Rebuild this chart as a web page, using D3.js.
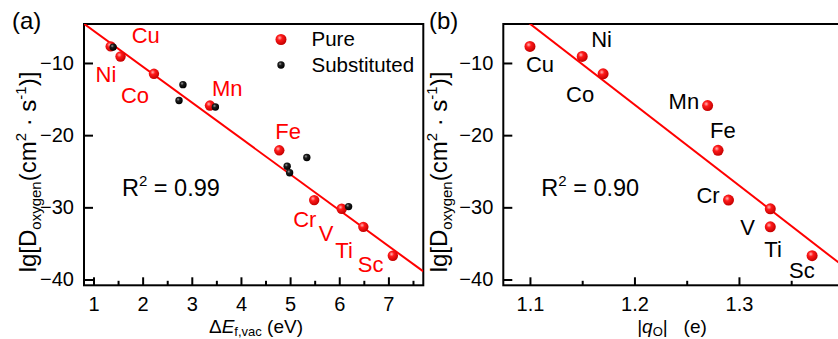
<!DOCTYPE html>
<html>
<head>
<meta charset="utf-8">
<script src="https://cdn.jsdelivr.net/npm/d3@7"></script>
<style>
  body { margin: 0; background: #fff; }
  text { font-family: 'Liberation Sans', Arial, sans-serif; }
</style>
</head>
<body>
<svg id="chart" width="838" height="339"></svg>
<script>
// values
const elements = ['Cu', 'Ni', 'Co', 'Mn', 'Fe', 'Cr', 'V', 'Ti', 'Sc'];
const lgD = [-7.7, -9.1, -11.5, -15.9, -22.1, -29.0, -30.2, -32.7, -36.7];
const eVacPure = [1.35, 1.55, 2.23, 3.37, 4.78, 5.49, 6.05, 6.49, 7.09];
const qO = [1.10, 1.15, 1.17, 1.27, 1.28, 1.29, 1.33, 1.33, 1.37];

const eVacSub = [1.40, 2.74, 2.82, 3.48, 4.94, 4.99, 5.34, 6.19];
const lgDSub = [-7.8, -15.2, -13.0, -16.1, -24.3, -25.2, -23.1, -29.9];

// linear fits: [intercept, slope]
const fitA = [-0.56, -4.97];
const fitB = [118.63, -112];
const r2A = '0.99';
const r2B = '0.90';

const yTicks = [-10, -20, -30, -40];
const xTicksA = [1, 2, 3, 4, 5, 6, 7];
const xMinorA = [1.5, 2.5, 3.5, 4.5, 5.5, 6.5, 7.5];
const xTicksB = [1.1, 1.2, 1.3];
const xMinorB = [1.15, 1.25, 1.35];

// label offsets from each point (px), panel a / panel b
const labOffA = [[21, -3], [-25, 26], [-33, 29], [2, -10], [-4, -11], [-21, 27], [-23, 32], [-28, 31], [-35, 16]];
const labOffB = [[-4, 26], [9, -9], [-37, 28], [-39, 3], [-8, -12], [-32, 3], [-30, 26], [-6, 30], [-23, 22]];

const RED = '#ff0000';
const svg = d3.select('#chart');

// sphere-like fills
const defs = svg.append('defs');
function ball(id, hi, mid, edge) {
  const g = defs.append('radialGradient').attr('id', id)
    .attr('cx', '38%').attr('cy', '35%').attr('r', '65%');
  g.append('stop').attr('offset', '0%').attr('stop-color', hi);
  g.append('stop').attr('offset', '35%').attr('stop-color', mid);
  g.append('stop').attr('offset', '100%').attr('stop-color', edge);
}
ball('redBall', '#ffb4b4', '#ff1a1a', '#c40000');
ball('blackBall', '#9a9a9a', '#1c1c1c', '#000');

const yScale = d3.scaleLinear().domain([-40.8, -4.6]).range([285.3, 24]);

function drawPanel(p) {
  const x = d3.scaleLinear().domain(p.xDomain).range(p.xRange);
  const g = svg.append('g');
  const clipId = 'clip' + p.tag;
  defs.append('clipPath').attr('id', clipId).append('rect')
    .attr('x', p.xRange[0]).attr('y', 24)
    .attr('width', p.xRange[1] - p.xRange[0]).attr('height', 285.3 - 24);

  // axes
  const xAxis = g.append('g').attr('transform', 'translate(0,285.3)')
    .call(d3.axisBottom(x).tickValues(p.xTicks).tickSize(-8).tickSizeOuter(0)
      .tickPadding(11.5).tickFormat(p.fmt));
  const xMinor = g.append('g').attr('transform', 'translate(0,285.3)')
    .call(d3.axisBottom(x).tickValues(p.xMinor).tickSize(-4.5).tickSizeOuter(0).tickFormat(''));
  const yAxis = g.append('g').attr('transform', `translate(${p.xRange[0]},0)`)
    .call(d3.axisLeft(yScale).tickValues(yTicks).tickSize(-9).tickSizeOuter(0)
      .tickPadding(10).tickFormat(d3.format('d')));
  [xAxis, xMinor, yAxis].forEach((a) => {
    a.select('.domain').remove();
    a.selectAll('line').attr('stroke', '#000').attr('stroke-width', 2);
    a.selectAll('text').attr('fill', '#000').style('font-size', '20px')
      .style('font-family', "'Liberation Sans', Arial, sans-serif");
  });

  // frame
  g.append('rect')
    .attr('x', p.xRange[0]).attr('y', 24)
    .attr('width', p.xRange[1] - p.xRange[0]).attr('height', 285.3 - 24)
    .attr('fill', 'none').attr('stroke', '#000').attr('stroke-width', 2);

  // fit line
  g.append('line')
    .attr('clip-path', `url(#${clipId})`)
    .attr('x1', x(p.xDomain[0])).attr('y1', yScale(p.fit[0] + p.fit[1] * p.xDomain[0]))
    .attr('x2', x(p.xDomain[1])).attr('y2', yScale(p.fit[0] + p.fit[1] * p.xDomain[1]))
    .attr('stroke', RED).attr('stroke-width', 2);

  // pure points
  g.selectAll('circle.pure').data(p.xs).enter().append('circle')
    .attr('class', 'pure')
    .attr('cx', (d) => x(d)).attr('cy', (d, i) => yScale(lgD[i]))
    .attr('r', p.r).attr('fill', 'url(#redBall)');

  if (p.subX) {
    g.selectAll('circle.sub').data(p.subX).enter().append('circle')
      .attr('class', 'sub')
      .attr('cx', (d) => x(d)).attr('cy', (d, i) => yScale(p.subY[i]))
      .attr('r', 3.7).attr('fill', 'url(#blackBall)');
  }

  // element labels
  g.selectAll('text.el').data(elements).enter().append('text')
    .attr('class', 'el')
    .attr('x', (d, i) => x(p.xs[i]) + p.labOff[i][0])
    .attr('y', (d, i) => yScale(lgD[i]) + p.labOff[i][1])
    .attr('fill', p.labColor).style('font-size', '22px')
    .text((d) => d);

  // R^2
  const r2 = g.append('text').attr('x', p.xRange[0] + 38).attr('y', 196)
    .style('font-size', '23.5px').attr('fill', '#000');
  r2.append('tspan').text('R');
  r2.append('tspan').attr('dy', -10).style('font-size', '15px').text('2');
  r2.append('tspan').attr('dy', 10).text('\u00a0= ' + p.r2);

  // panel tag
  g.append('text').attr('x', p.tagX).attr('y', 29).style('font-size', '24px')
    .text(`(${p.tag})`);

  // y title
  const yt = g.append('text')
    .attr('transform', `translate(${p.yTitleX},172) rotate(-90)`)
    .attr('text-anchor', 'middle').style('font-size', '24px');
  yt.append('tspan').text('lg[D');
  yt.append('tspan').attr('dy', 5).style('font-size', '15px').text('oxygen');
  yt.append('tspan').attr('dy', -5).text('(cm');
  yt.append('tspan').attr('dy', -10).style('font-size', '15px').text('2');
  yt.append('tspan').attr('dy', 10).text('\u00a0\u00b7\u00a0s');
  yt.append('tspan').attr('dy', -10).style('font-size', '15px').text('-1');
  yt.append('tspan').attr('dy', 10).text(')]');

  // x title
  const xt = g.append('text').attr('x', p.xTitleX).attr('y', 333)
    .attr('text-anchor', 'middle').style('font-size', '19px');
  p.xTitle(xt);
}

drawPanel({
  tag: 'a', tagX: 12, yTitleX: 36, xTitleX: 256,
  xDomain: [0.807, 7.71], xRange: [84, 423.3],
  xTicks: xTicksA, xMinor: xMinorA, fmt: d3.format('d'),
  xs: eVacPure, subX: eVacSub, subY: lgDSub,
  fit: fitA, r2: r2A, r: 5.2, labOff: labOffA, labColor: RED,
  xTitle: (t) => {
    t.append('tspan').text('\u0394');
    t.append('tspan').style('font-style', 'italic').text('E');
    t.append('tspan').attr('dy', 3).style('font-size', '13px').text('f,vac');
    t.append('tspan').attr('dy', -3).text('\u00a0(eV)');
  },
});

drawPanel({
  tag: 'b', tagX: 429, yTitleX: 447, xTitleX: 672,
  xDomain: [1.0745, 1.3967], xRange: [503.3, 840],
  xTicks: xTicksB, xMinor: xMinorB, fmt: d3.format('.1f'),
  xs: qO, fit: fitB, r2: r2B, r: 5.5, labOff: labOffB, labColor: '#000',
  xTitle: (t) => {
    t.append('tspan').text('|');
    t.append('tspan').style('font-style', 'italic').text('q');
    t.append('tspan').attr('dy', 3).style('font-size', '13px').text('O');
    t.append('tspan').attr('dy', -3).text('|\u00a0\u00a0 (e)');
  },
});

// legend
const legend = svg.append('g');
const legendItems = [['Pure', 'url(#redBall)', 5.5], ['Substituted', 'url(#blackBall)', 3.7]];
legendItems.forEach((d, i) => {
  legend.append('circle').attr('cx', 281).attr('cy', 39.5 + i * 25.5)
    .attr('r', d[2]).attr('fill', d[1]);
  legend.append('text').attr('x', 311.5).attr('y', 46 + i * 25.5)
    .style('font-size', '20.5px').text(d[0]);
});
</script>
</body>
</html>
